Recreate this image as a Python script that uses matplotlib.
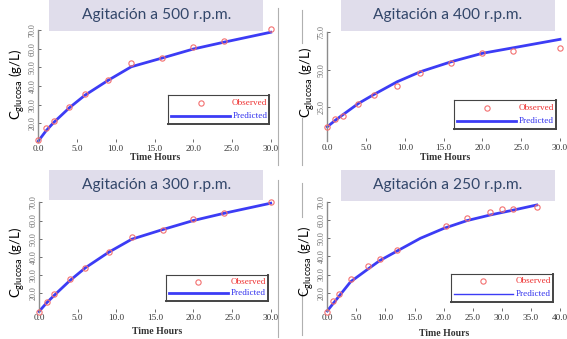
import matplotlib.pyplot as plt
from matplotlib.lines import Line2D
from matplotlib.patches import Rectangle

W, H = 567, 339

# ---- data (glucose g/L vs hours) ----
titles = ["Agitación a 500 r.p.m.", "Agitación a 400 r.p.m.",
          "Agitación a 300 r.p.m.", "Agitación a 250 r.p.m."]

t_obs_500 = [0, 1, 2, 4, 6, 9, 12, 16, 20, 24, 30]
obs_500 = [11.0, 17.3, 21.4, 28.6, 35.5, 43.2, 52.1, 54.8, 61.0, 64.2, 70.3]
t_pred_500 = [0, 1, 2, 4, 6, 9, 12, 16, 20, 24, 30]
pred_500 = [10.5, 16.0, 20.5, 28.3, 35.0, 43.0, 50.3, 55.0, 59.8, 63.5, 68.8]

t_obs_400 = [0, 1, 2, 4, 6, 9, 12, 16, 20, 24, 30]
obs_400 = [12.1, 17.0, 19.4, 27.0, 33.2, 39.2, 47.7, 54.8, 61.0, 62.5, 64.3]
t_pred_400 = [0, 1, 2, 4, 6, 9, 12, 16, 20, 24, 30]
pred_400 = [12.0, 16.2, 20.0, 27.5, 33.5, 42.0, 48.7, 55.4, 61.0, 64.7, 70.3]

t_obs_300 = [0, 1, 2, 4, 6, 9, 12, 16, 20, 24, 30]
obs_300 = [10.0, 15.4, 19.6, 27.7, 34.1, 42.5, 51.1, 54.8, 60.7, 64.3, 70.4]
t_pred_300 = [0, 1, 2, 4, 6, 9, 12, 16, 20, 24, 30]
pred_300 = [10.0, 14.8, 19.0, 27.0, 34.0, 42.5, 49.7, 55.0, 60.0, 64.0, 69.5]

t_obs_250 = [0, 1, 2, 4, 7, 9, 12, 20.4, 24, 28, 30, 32, 36]
obs_250 = [9.5, 15.4, 19.3, 27.3, 34.8, 38.7, 43.4, 56.6, 61.2, 64.3, 66.2, 65.8, 66.9]
t_pred_250 = [0, 2, 4, 7, 9, 12, 16, 20, 24, 28, 32, 36]
pred_250 = [10.0, 18.0, 26.0, 33.0, 37.6, 42.9, 49.9, 55.3, 59.6, 62.7, 65.4, 68.2]

x_ticks_30 = [0, 5, 10, 15, 20, 25, 30]
x_ticks_40 = [0, 5, 10, 15, 20, 25, 30, 35, 40]
y_ticks_70 = [20, 30, 40, 50, 60, 70]
y_ticks_75 = [25, 50, 75]


def fbox(x0, y0, x1, y1):
    # pixel box (top-left origin) -> figure fraction rect
    return [x0 / W, 1 - y1 / H, (x1 - x0) / W, (y1 - y0) / H]


def fpt(x, y):
    return x / W, 1 - y / H


plt.rcParams['font.family'] = ['Liberation Serif', 'DejaVu Serif']
fig = plt.figure(figsize=(W / 100, H / 100), dpi=100)

panels = [
    dict(ax=(38.3, 30, 270.7, 142), title=(49.3, 0, 263.3, 30.7), leg=(168.3, 95, 269.3, 124.3),
         ylab=(17, 84), xlab=(155, 157), xlim=(0, 30), ylim=(10, 70), xt=x_ticks_30, yt=y_ticks_70,
         t_obs=t_obs_500, obs=obs_500, t_pred=t_pred_500, pred=pred_500, leg_lw=2.0,
         sep=[(278, 8, 165)]),
    dict(ax=(327.3, 32.3, 560, 141), title=(340.7, 0, 555, 31), leg=(454, 100, 555.7, 129.3),
         ylab=(307, 82), xlab=(445, 157), xlim=(0, 30), ylim=(2.5, 75), xt=x_ticks_30, yt=y_ticks_75,
         t_obs=t_obs_400, obs=obs_400, t_pred=t_pred_400, pred=pred_400, leg_lw=2.0,
         sep=[(302, 10, 43), (302, 118, 165)]),
    dict(ax=(39, 202.3, 270.7, 311.5), title=(49.3, 170, 263.3, 200), leg=(165.7, 275, 267.7, 300.7),
         ylab=(17, 262), xlab=(157, 332), xlim=(0, 30), ylim=(10, 70), xt=x_ticks_30, yt=y_ticks_70,
         t_obs=t_obs_300, obs=obs_300, t_pred=t_pred_300, pred=pred_300, leg_lw=2.0,
         sep=[(278, 180, 337)]),
    dict(ax=(327.3, 201.7, 560, 310.9), title=(340.7, 170, 555, 201), leg=(450.7, 274, 552.7, 302),
         ylab=(306, 261), xlab=(444, 333), xlim=(0, 40), ylim=(10, 70), xt=x_ticks_40, yt=y_ticks_70,
         t_obs=t_obs_250, obs=obs_250, t_pred=t_pred_250, pred=pred_250, leg_lw=1.0,
         sep=[(302, 183, 217), (302, 292, 335)]),
]

red = '#f37070'
blue = '#3c3cf5'

for i, p in enumerate(panels):
    ax = fig.add_axes(fbox(*p['ax']))
    ax.plot(p['t_pred'], p['pred'], color=blue, lw=2.0, zorder=2, clip_on=False)
    ax.plot(p['t_obs'], p['obs'], ls='none', marker='o', ms=3.8, mfc='none',
            mec=red, mew=0.8, zorder=3, clip_on=False)
    ax.set_xlim(*p['xlim'])
    ax.set_ylim(*p['ylim'])
    ax.set_xticks(p['xt'])
    ax.set_xticklabels(['%.1f' % v for v in p['xt']])
    ax.set_yticks(p['yt'])
    ax.set_yticklabels(['%.1f' % v for v in p['yt']], rotation=90, va='center')
    for s in ['top', 'right', 'bottom']:
        ax.spines[s].set_visible(False)
    ax.spines['left'].set_color('#8c8c8c')
    ax.spines['left'].set_linewidth(1.0)
    ax.tick_params(axis='x', direction='in', length=2.5, width=0.6, color='#555555',
                   labelsize=6.6, labelcolor='#333333', pad=2)
    ax.tick_params(axis='y', direction='in', length=2.5, width=0.6, color='#555555',
                   labelsize=5.8, labelcolor='#6a6a6a', pad=1.2)
    ax.patch.set_alpha(0)

    # legend
    lx0, ly0, lx1, ly1 = p['leg']
    lax = fig.add_axes(fbox(lx0, ly0, lx1, ly1))
    lax.set_xlim(0, 1)
    lax.set_ylim(0, 1)
    lax.set_xticks([])
    lax.set_yticks([])
    for s in lax.spines.values():
        s.set_color('#444444')
        s.set_linewidth(0.8)
    lax.spines['bottom'].set_linewidth(1.4)
    lax.spines['right'].set_linewidth(1.4)
    lax.plot([0.32], [0.74], ls='none', marker='o', ms=3.8, mfc='none', mec=red, mew=0.8)
    lax.plot([0.03, 0.61], [0.3, 0.3], color=blue, lw=p['leg_lw'])
    lax.text(0.98, 0.74, 'Observed', color='#ee3030', fontsize=6.6, ha='right', va='center')
    lax.text(0.98, 0.3, 'Predicted', color='#3030ee', fontsize=6.6, ha='right', va='center')

    # title box
    tx0, ty0, tx1, ty1 = p['title']
    fig.patches.append(Rectangle(fpt(tx0, ty1), (tx1 - tx0) / W, (ty1 - ty0) / H,
                                 transform=fig.transFigure, facecolor='#e0ddeb',
                                 edgecolor='none', zorder=5))
    cx, cy = fpt((tx0 + tx1) / 2, (ty0 + ty1) / 2)
    fig.text(cx, cy, titles[i], ha='center', va='center', fontsize=11.2,
             color='#33476a', family=['Lato', 'DejaVu Sans'], zorder=6)

    # axis labels
    yx, yy = fpt(*p['ylab'])
    fig.text(yx, yy, r'C$_{\mathregular{glucosa}}$ (g/L)', rotation=90, ha='center',
             va='center', fontsize=9.5, family=['Lato', 'DejaVu Sans'], color='black')
    xx, xy = fpt(*p['xlab'])
    fig.text(xx, xy, 'Time Hours', ha='center', va='center', fontsize=7,
             fontweight='bold', color='#333333')

    # thin grey separator strokes between the pictures
    for sx, sy0, sy1 in p['sep']:
        fig.lines.append(Line2D([sx / W, sx / W], [1 - sy0 / H, 1 - sy1 / H],
                                transform=fig.transFigure, color='#b0b0b0', lw=0.8))

fig.savefig('out.png', dpi=100)
